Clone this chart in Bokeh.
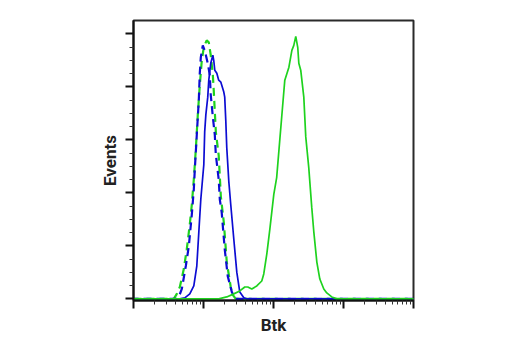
from bokeh.plotting import figure
from bokeh.models import Range1d, FixedTicker, CustomJSTickFormatter
from bokeh.embed import file_html
from bokeh.resources import INLINE

# ---- data (x = fluorescence intensity, y = events) ----
blue_solid_x = [1, 4.59, 5.41, 6.37, 7.27, 8.02, 8.57, 9.15, 10.1, 10.4, 10.8, 11.5, 11.9, 12.7, 13.6,
                14.0, 14.5, 15.5, 16.5, 17.7, 19.5, 20.1, 20.8, 21.5, 23.0, 24.5, 27.1, 29.9, 33.0,
                37.7, 41.6, 10000]
blue_solid_y = [0, 0, 0.4, 1.9, 4.9, 12.4, 25.1, 37.5, 50.6, 63, 69.4, 76.1, 82.5, 88.9, 91.9,
                90, 86.25, 85.1, 82.5, 81.75, 78, 76.1, 67.5, 57, 44.25, 35.6, 22.5, 10.1, 2.6,
                0.4, 0, 0]

blue_dash_x = [1, 4.16, 4.44, 4.90, 5.59, 6.17, 6.81, 7.27, 7.51, 8.02, 8.57, 8.85, 9.15, 9.77,
               10.4, 11.5, 12.3, 12.7, 13.6, 14.5, 15.0, 16.5, 17.1, 18.2, 20.1, 22.2, 25.4,
               28.0, 30.0, 10000]
blue_dash_y = [0, 0, 0.75, 3.75, 12.4, 19.9, 31.9, 41.25, 48.75, 61.9, 75, 85.1, 91.1, 95.6,
               93.75, 88.9, 84.4, 76.9, 68.6, 61.9, 54.4, 45, 37.5, 32.6, 18.75, 8.6, 2.6,
               0.4, 0, 0]

green_dash_x = [1, 3.76, 4.16, 4.59, 5.23, 5.77, 6.37, 6.81, 7.27, 7.76, 8.29, 8.85, 9.46, 10.1,
                11.1, 11.9, 12.7, 13.6, 14.0, 15.0, 16.5, 17.7, 19.5, 21.5, 24.5, 26.2, 28.9, 10000]
green_dash_y = [0, 0, 1.9, 4.5, 11.25, 18.75, 28.1, 35.6, 45, 56.25, 69.4, 80.6, 90, 94.9,
                97.5, 96.75, 91.9, 84.4, 78.75, 63, 54, 38.6, 28.9, 13.9, 4.5, 1.5, 0, 0]

green_solid_x = [1, 16.5, 21.5, 27.1, 33.0, 38.9, 42.9, 49.0, 57.7, 68.0, 72.6, 80.2, 88.6, 101,
                 111, 123, 131, 145, 166, 183, 195, 208, 222, 230, 245, 271, 289, 319, 352,
                 376, 416, 459, 523, 577, 680, 802, 10000]
green_solid_y = [0, 0, 0.75, 1.9, 3.0, 4.5, 4.5, 3.75, 4.9, 6.75, 9.4, 16.9, 26.25, 39.4,
                 45.75, 60, 68.6, 82.5, 87.4, 93.75, 95.6, 99, 94.9, 88.9, 86.25, 76.1, 61.1,
                 49.5, 34.5, 25.5, 13.9, 7.5, 3.75, 2.25, 0.75, 0, 0]

x_major = [1, 10, 100, 1000, 10000]
x_minor = [k * 10 ** d for d in range(4) for k in range(2, 10)]
y_major = [0, 20, 40, 60, 80, 100]
y_minor = [v for v in range(0, 105, 5) if v % 20 != 0]

x_label = "Btk"
y_label = "Events"

BLUE = "#0c0cd2"
GREEN = "#1ed21e"
FONT = "Roboto"

p = figure(frame_width=280, frame_height=280, x_axis_type="log",
           x_range=Range1d(1, 10000), y_range=Range1d(-0.6, 105),
           output_backend="svg", toolbar_location=None,
           min_border_left=133, min_border_right=87, min_border_top=20, min_border_bottom=40,
           background_fill_color="white", border_fill_color="white")

p.xgrid.visible = False
p.ygrid.visible = False
p.outline_line_color = "#2a2a2a"
p.outline_line_width = 2

p.line(green_dash_x, green_dash_y, line_color=GREEN, line_width=2.2, line_dash="8 5")
p.line(blue_dash_x, blue_dash_y, line_color=BLUE, line_width=2.2, line_dash="8 5", line_dash_offset=3)
p.line(blue_solid_x, blue_solid_y, line_color=BLUE, line_width=1.7)
p.line(green_solid_x, green_solid_y, line_color=GREEN, line_width=1.7)

blank = CustomJSTickFormatter(code="return ''")
p.xaxis.ticker = FixedTicker(ticks=x_major, minor_ticks=x_minor)
p.yaxis.ticker = FixedTicker(ticks=y_major, minor_ticks=y_minor)
p.xaxis.axis_label = x_label
p.yaxis.axis_label = y_label
for ax in (p.xaxis, p.yaxis):
    ax.formatter = blank
    ax.major_label_text_font_size = "2px"
    ax.major_label_standoff = 0
    ax.axis_line_width = 2
    ax.axis_line_color = "#111111"
    ax.major_tick_in = 0
    ax.minor_tick_in = 0
    ax.major_tick_line_width = 2
    ax.major_tick_line_color = "#111111"
    ax.minor_tick_line_width = 1
    ax.minor_tick_line_color = "#333333"
    ax.axis_label_text_font = FONT
    ax.axis_label_text_font_style = "bold"
    ax.axis_label_text_font_size = "17px"
    ax.axis_label_text_color = "#222222"
p.yaxis.major_tick_out = 8
p.yaxis.minor_tick_out = 4
p.xaxis.major_tick_out = 8
p.xaxis.minor_tick_out = 4
p.xaxis.axis_label_standoff = 6
p.yaxis.axis_label_standoff = 6

open("out.html", "w").write(file_html(p, INLINE))
